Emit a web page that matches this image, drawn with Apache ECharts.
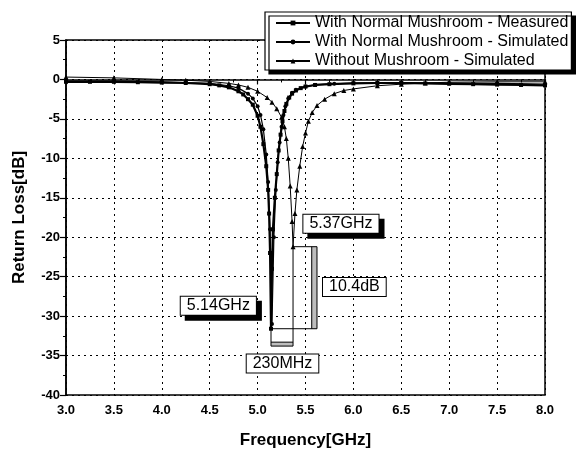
<!DOCTYPE html>
<html>
<head>
<meta charset="utf-8">
<script src="https://cdn.jsdelivr.net/npm/echarts@6/dist/echarts.min.js"></script>
<style>
  html, body { margin: 0; padding: 0; background: #fff; }
  #chart { width: 579px; height: 456px; }
</style>
</head>
<body>
<div id="chart"></div>
<script>
// Return loss of the patch antenna, with and without the mushroom structure
const seriesNames = [
  'With Normal Mushroom - Measured',
  'With Normal Mushroom - Simulated',
  'Without Mushroom - Simulated'
];

// frequency [GHz] / return loss [dB]
const freqMeasured = [3.0, 3.25, 3.5, 3.75, 4.0, 4.25, 4.5, 4.6, 4.7, 4.8, 4.85, 4.9, 4.95, 5.0, 5.03, 5.06, 5.09, 5.11, 5.12, 5.13, 5.14, 5.15, 5.16, 5.18, 5.2, 5.22, 5.24, 5.26, 5.28, 5.3, 5.33, 5.36, 5.4, 5.45, 5.5, 5.6, 5.75, 6.0, 6.25, 6.5, 6.75, 7.0, 7.25, 7.5, 7.75, 8.0];
const lossMeasured = [-0.3, -0.3, -0.3, -0.35, -0.4, -0.45, -0.6, -0.75, -1.0, -1.5, -1.9, -2.5, -3.2, -4.6, -6.0, -8.2, -11.0, -14.0, -17.0, -22.0, -31.6, -24.0, -19.0, -15.0, -12.0, -9.0, -7.0, -5.3, -4.0, -3.1, -2.3, -1.8, -1.4, -1.1, -0.9, -0.7, -0.6, -0.5, -0.45, -0.45, -0.5, -0.55, -0.6, -0.65, -0.7, -0.75];

const freqSimulated = [3.0, 3.5, 4.0, 4.5, 4.7, 4.8, 4.9, 4.95, 5.0, 5.03, 5.06, 5.09, 5.11, 5.13, 5.15, 5.17, 5.19, 5.21, 5.23, 5.25, 5.27, 5.29, 5.32, 5.36, 5.4, 5.5, 5.6, 5.8, 6.0, 6.5, 7.0, 7.5, 8.0];
const lossSimulated = [-0.2, -0.2, -0.3, -0.5, -0.8, -1.1, -1.8, -2.4, -3.4, -4.5, -6.3, -9.5, -13.0, -19.0, -31.0, -20.0, -14.0, -10.5, -8.0, -6.0, -4.5, -3.4, -2.4, -1.7, -1.3, -0.9, -0.7, -0.55, -0.45, -0.4, -0.45, -0.5, -0.6];

const freqWithout = [3.0, 3.5, 4.0, 4.25, 4.5, 4.7, 4.8, 4.9, 5.0, 5.1, 5.15, 5.2, 5.25, 5.28, 5.3, 5.32, 5.34, 5.36, 5.37, 5.39, 5.41, 5.44, 5.47, 5.5, 5.53, 5.57, 5.62, 5.7, 5.8, 5.9, 6.0, 6.25, 6.5, 6.75, 7.0, 7.5, 8.0];
const lossWithout = [0.3, 0.2, 0.0, -0.1, -0.25, -0.5, -0.7, -1.0, -1.5, -2.3, -2.9, -3.7, -4.8, -6.0, -7.5, -10.0, -13.5, -18.0, -21.2, -17.0, -14.0, -11.0, -8.5, -6.8, -5.3, -4.2, -3.3, -2.5, -1.8, -1.4, -1.2, -0.8, -0.6, -0.45, -0.35, -0.3, -0.3];

// resonance points quoted in the annotations
const resonanceWith = [5.14, -31.6];
const resonanceWithout = [5.37, -21.2];
const annotationTexts = ['5.37GHz', '10.4dB', '5.14GHz', '230MHz'];

// axis ticks
const xTicks = { min: 3.0, max: 8.0, step: 0.5 };
const yTicks = { min: -40, max: 5, step: 5 };

const FONT = '"Liberation Sans", Arial, sans-serif';
const pairs = (xs, ys) => xs.map((x, i) => [x, ys[i]]);

// bracket geometry (right edge of the dB bracket, bottom of the MHz bracket)
const dbBracketRight = 5.62;
const mhzBracketBottom = -33.8;
const fW = resonanceWith[0], lW = resonanceWith[1];
const fO = resonanceWithout[0], lO = resonanceWithout[1];

const bracketLines = [
  [fO, lO], [dbBracketRight, lO], [dbBracketRight, lW], [fW, lW], null,
  [fO, lO], [fO, mhzBracketBottom], [fW, mhzBracketBottom], [fW, lW], null,
  [dbBracketRight - 0.055, lO], [dbBracketRight - 0.055, lW], null,
  [fW, mhzBracketBottom + 0.5], [fO, mhzBracketBottom + 0.5]
].map(p => p === null ? '-' : p);

function boxLabel(text, shadow) {
  return {
    show: true,
    position: 'inside',
    formatter: text,
    color: '#000',
    fontFamily: FONT,
    fontSize: 16,
    lineHeight: 17,
    backgroundColor: '#fff',
    borderColor: '#000',
    borderWidth: 1,
    padding: [1, 6, 0, 6],
    shadowColor: shadow ? '#000' : 'transparent',
    shadowBlur: 0,
    shadowOffsetX: shadow ? 5 : 0,
    shadowOffsetY: shadow ? 5 : 0
  };
}

const chart = echarts.init(document.getElementById('chart'), null, { renderer: 'canvas' });

chart.setOption({
  animation: false,
  backgroundColor: '#fff',
  grid: {
    left: 66, right: 34, top: 40, bottom: 61,
    show: true, borderColor: '#000', borderWidth: 1.5, backgroundColor: 'transparent'
  },
  legend: {
    data: seriesNames,
    orient: 'vertical',
    left: 265, top: 12,
    padding: [3, 3, 1, 10],
    itemWidth: 34, itemHeight: 6, itemGap: 3,
    backgroundColor: '#fff',
    borderColor: '#000', borderWidth: 1.2,
    shadowColor: '#000', shadowBlur: 0, shadowOffsetX: 4, shadowOffsetY: 4,
    textStyle: { fontFamily: FONT, fontSize: 16, color: '#000' }
  },
  xAxis: {
    type: 'value',
    min: xTicks.min, max: xTicks.max, interval: xTicks.step,
    name: 'Frequency[GHz]',
    nameLocation: 'middle', nameGap: 37,
    nameTextStyle: { fontFamily: FONT, fontWeight: 'bold', fontSize: 17, color: '#000' },
    axisLine: { lineStyle: { color: '#000', width: 1.5 } },
    axisTick: { show: true, length: 5, lineStyle: { color: '#000', width: 1.2 } },
    minorTick: { show: true, splitNumber: 2, length: 3, lineStyle: { color: '#000' } },
    axisLabel: {
      fontFamily: FONT, fontWeight: 'bold', fontSize: 13, color: '#000', margin: 9,
      formatter: v => v.toFixed(1)
    },
    splitLine: { show: true, lineStyle: { color: '#000', type: [2, 4], width: 1 } }
  },
  yAxis: {
    type: 'value',
    min: yTicks.min, max: yTicks.max, interval: yTicks.step,
    name: 'Return Loss[dB]',
    nameLocation: 'middle', nameGap: 38,
    nameTextStyle: { fontFamily: FONT, fontWeight: 'bold', fontSize: 17, color: '#000' },
    axisLine: { show: true, lineStyle: { color: '#000', width: 1.5 } },
    axisTick: { show: true, length: 6, lineStyle: { color: '#000', width: 1.2 } },
    minorTick: { show: true, splitNumber: 2, length: 3, lineStyle: { color: '#000' } },
    axisLabel: { fontFamily: FONT, fontWeight: 'bold', fontSize: 13, color: '#000', margin: 6 },
    splitLine: { show: true, lineStyle: { color: '#000', type: [2, 4], width: 1 } }
  },
  series: [
    {
      name: seriesNames[0], type: 'line',
      data: pairs(freqMeasured, lossMeasured),
      symbol: 'rect', symbolSize: 4, showAllSymbol: true,
      lineStyle: { color: '#000', width: 2.2 },
      itemStyle: { color: '#000' },
      z: 4
    },
    {
      name: seriesNames[1], type: 'line',
      data: pairs(freqSimulated, lossSimulated),
      symbol: 'circle', symbolSize: 4, showAllSymbol: true,
      lineStyle: { color: '#000', width: 1.2 },
      itemStyle: { color: '#000' },
      z: 3
    },
    {
      name: seriesNames[2], type: 'line',
      data: pairs(freqWithout, lossWithout),
      symbol: 'triangle', symbolSize: 5, showAllSymbol: true,
      lineStyle: { color: '#000', width: 1 },
      itemStyle: { color: '#000' },
      z: 3
    },
    {
      // brackets marking the frequency shift and the depth difference
      name: 'brackets', type: 'line',
      data: bracketLines,
      symbol: 'none', silent: true, connectNulls: false,
      lineStyle: { color: '#000', width: 1 },
      markArea: {
        silent: true,
        itemStyle: { color: '#bdbdbd' },
        data: [
          [{ coord: [dbBracketRight - 0.055, lO] }, { coord: [dbBracketRight, lW] }],
          [{ coord: [fW, mhzBracketBottom + 0.5] }, { coord: [fO, mhzBracketBottom] }]
        ]
      },
      z: 5
    },
    {
      name: 'annotations', type: 'scatter',
      symbolSize: 0, silent: true,
      itemStyle: { opacity: 1 },
      data: [
        { value: [5.87, -18.3], label: boxLabel(annotationTexts[0], true) },
        { value: [6.01, -26.3], label: boxLabel(annotationTexts[1], false) },
        { value: [4.59, -28.7], label: boxLabel(annotationTexts[2], true) },
        { value: [5.26, -36.0], label: boxLabel(annotationTexts[3], false) }
      ],
      z: 6
    }
  ]
});
</script>
</body>
</html>
